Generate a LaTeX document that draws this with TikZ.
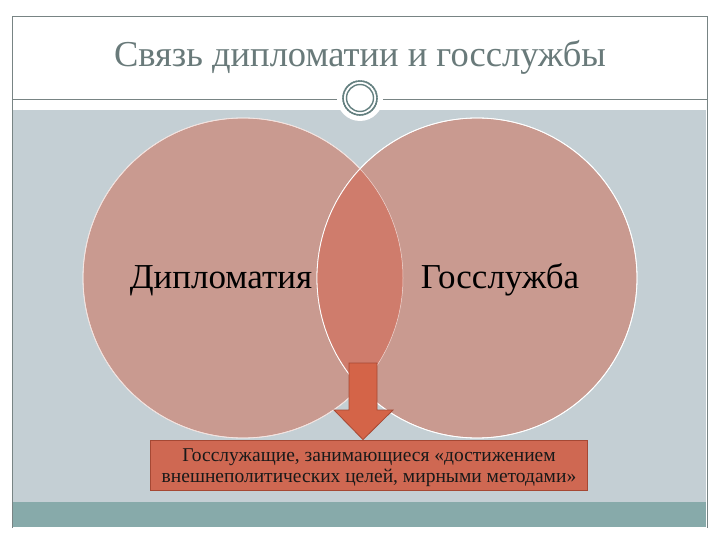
\documentclass[tikz,border=0pt]{standalone}
\usepackage{fontspec}
\setmainfont{Liberation Serif}
\definecolor{framegray}{RGB}{120,132,132}
\definecolor{bandgray}{RGB}{196,207,212}
\definecolor{bandteal}{RGB}{135,170,170}
\definecolor{circfill}{RGB}{201,154,144}
\definecolor{lensfill}{RGB}{207,124,108}
\definecolor{arrowfill}{RGB}{212,100,72}
\definecolor{arrowline}{RGB}{165,72,52}
\definecolor{boxfill}{RGB}{207,104,82}
\definecolor{titlegray}{RGB}{105,122,122}
\definecolor{ringcol}{RGB}{100,128,128}
\tikzset{
  setcircle/.style={circle, minimum size=320pt, inner sep=0pt, fill=circfill, draw=white, line width=0.8pt},
  bigtext/.style={font=\fontsize{35}{40}\selectfont, text=black, anchor=base},
  notebox/.style={draw=arrowline, fill=boxfill, line width=0.8pt, minimum width=437pt, minimum height=50pt, inner sep=0pt},
  notetext/.style={align=center, font=\fontsize{19.5}{21}\selectfont, text=black!90, inner sep=0pt}
}
\begin{document}
\begin{tikzpicture}[x=1pt,y=-1pt]
\useasboundingbox (0,0) rectangle (720,540);
\fill[white] (0,0) rectangle (720,540);
% frame and bands
\fill[bandgray] (13,110) rectangle (706,502);
\fill[bandteal] (13,502) rectangle (706,527);
\draw[framegray, line width=1pt] (12,528) -- (12,17) -- (707,17) -- (707,528);
\draw[framegray, line width=1pt] (12,100) -- (707,100);
% title
\node[font=\fontsize{36.5}{40}\selectfont, text=titlegray, anchor=base] (title) at (360,67) {Связь дипломатии и госслужбы};
% ornament
\node[circle, fill=white, minimum size=46pt, inner sep=0pt] (orn) at (360,98) {};
\draw[ringcol, line width=1.6pt, densely dotted] (orn.center) circle[radius=17];
\draw[ringcol, line width=1.4pt] (orn.center) circle[radius=17];
\draw[ringcol, line width=1.4pt] (orn.center) circle[radius=13.5];
% circles
\node[setcircle] (left) at (243,278) {};
\node[setcircle] (right) at (477,278) {};
\begin{scope}
  \clip (243,278) circle[radius=160];
  \fill[lensfill] (477,278) circle[radius=160];
\end{scope}
\draw[white, line width=0.8pt] (477,278) circle[radius=160];
\draw[white!70!lensfill, line width=0.5pt] (243,278) circle[radius=160];
\node[bigtext] (dip) at (221,288) {Дипломатия};
\node[bigtext] (gos) at (500,288) {Госслужба};
% arrow and note
\coordinate (atop) at (363,363);
\node[notebox] (note) at (368.5,465) {};
\node[notetext] (notetxt) at (369,468) {Госслужащие, занимающиеся «достижением\\внешнеполитических целей, мирными методами»};
\draw[arrowline, fill=arrowfill, line width=0.8pt]
  (349,363) -- (377,363) -- (377,410) -- (393,410) -- (note.north -| atop) -- (334,410) -- (349,410) -- cycle;
\end{tikzpicture}
\end{document}
